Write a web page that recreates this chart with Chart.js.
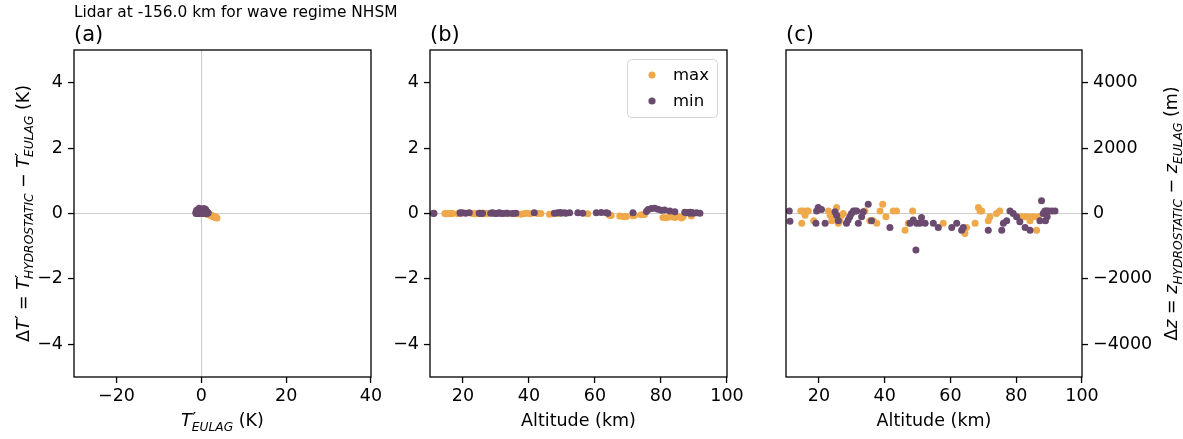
<!DOCTYPE html>
<html>
<head>
<meta charset="utf-8">
<script src="https://cdn.jsdelivr.net/npm/chart.js@4.4.0/dist/chart.umd.min.js"></script>
<style>
  body { margin: 0; background: #fff; width: 1183px; height: 439px; overflow: hidden; position: relative; }
  canvas { position: absolute; left: 0; top: 0; }
</style>
</head>
<body>
<canvas id="pa" width="1183" height="439"></canvas>
<canvas id="pb" width="1183" height="439"></canvas>
<canvas id="pc" width="1183" height="439"></canvas>
<script>
// Maxima (orange): altitude (km), T' EULAG (K), dT' (K), dz (m)
const altMax = [14.5, 14.8, 15.3, 15.8, 16.3, 16.8, 18.4, 22.9, 23.4, 23.9, 24.4, 25.4, 25.9, 26.4, 26.9, 27.4, 34.0, 35.5, 36.5, 37.6, 38.6, 39.4, 40.4, 42.6, 43.6, 46.2, 47.2, 48.5, 57.8, 64.4, 64.9, 67.5, 68.5, 69.0, 69.5, 71.5, 72.0, 74.0, 75.0, 80.6, 81.6, 82.7, 83.7, 84.2, 85.2, 86.2, 86.7, 89.2];
const tMax = [0.8, 1.0, 0.7, 1.1, 0.9, 0.6, 1.2, 0.9, 1.3, 1.1, 0.8, 0.7, 1.4, 1.2, 1.0, 0.9, 1.1, 1.3, 1.5, 1.6, 0.9, 0.7, 1.4, 1.0, 1.2, 1.8, 1.5, 1.1, 1.7, 2.2, 2.4, 2.7, 2.9, 3.1, 2.8, 2.5, 2.1, 2.0, 1.9, 3.4, 3.6, 3.2, 3.0, 3.5, 2.9, 3.7, 3.1, 2.6];
const dTMax = [0.00, -0.01, 0.00, -0.01, 0.00, 0.00, -0.01, 0.00, -0.01, -0.01, 0.00, 0.01, -0.01, -0.01, 0.00, 0.00, 0.00, -0.01, -0.01, -0.02, 0.00, 0.01, -0.01, 0.00, 0.00, -0.02, -0.01, 0.00, -0.01, -0.05, -0.06, -0.08, -0.09, -0.10, -0.09, -0.07, -0.05, -0.04, -0.03, -0.12, -0.13, -0.11, -0.10, -0.12, -0.09, -0.14, -0.10, -0.08];
const dzMax = [80, -300, 80, -50, 80, 80, -220, 80, -50, -220, -100, 180, -300, -220, -50, 0, 80, -220, -220, -300, 80, 285, -100, 80, 80, -510, -300, 80, -300, -610, -430, -300, 180, 80, 80, -220, -100, 0, 80, -100, -100, -100, -100, -220, -100, -510, -100, 0];

// Minima (purple)
const altMin = [11.0, 11.2, 19.1, 19.3, 19.8, 20.8, 21.9, 24.9, 25.4, 25.9, 28.4, 28.9, 29.4, 29.9, 30.5, 31.0, 31.5, 32.0, 33.0, 33.5, 35.0, 36.0, 41.6, 47.7, 48.7, 49.5, 49.7, 50.7, 51.2, 52.3, 54.8, 56.3, 60.4, 61.9, 63.4, 63.9, 71.5, 75.6, 76.1, 77.1, 78.1, 79.1, 80.1, 81.1, 82.7, 84.2, 87.2, 87.7, 88.2, 88.7, 88.9, 89.2, 89.4, 89.8, 90.8, 91.8];
const tMin = [-1.2, -0.8, -1.0, -0.6, -1.3, -0.9, -0.4, -1.1, -0.7, -0.2, -0.5, -1.0, 0.1, -0.3, 0.3, -0.8, 0.6, 0.0, -0.6, 0.8, 0.4, 1.0, -0.2, 1.2, 0.5, 1.4, 0.9, 1.6, 0.2, 1.1, -0.9, 0.7, 1.3, 0.4, -0.4, 1.5, 0.8, -0.3, 0.2, 0.6, -0.5, 1.0, -1.1, 0.5, 1.2, -0.7, 0.9, 0.3, 1.4, -0.1, 1.1, 0.7, -1.0, 1.3, 0.0, 0.6];
const dTMin = [0.00, 0.01, 0.02, 0.01, 0.02, 0.01, 0.02, 0.01, 0.00, 0.01, 0.01, 0.02, 0.01, 0.00, 0.01, 0.02, 0.01, 0.00, 0.01, 0.01, 0.00, 0.01, 0.02, 0.01, 0.02, 0.03, 0.01, 0.02, 0.01, 0.02, 0.02, 0.01, 0.02, 0.03, 0.02, 0.01, 0.02, 0.06, 0.12, 0.15, 0.16, 0.13, 0.10, 0.11, 0.08, 0.05, 0.04, 0.02, 0.03, 0.01, 0.04, 0.02, 0.03, 0.01, 0.02, 0.01];
const dzMin = [80, -235, -300, 80, 180, 120, -300, 50, -50, -220, -300, -200, -100, 0, 80, 80, 80, -300, -100, 50, 285, -220, -430, -300, -200, -1120, -300, -300, -120, -300, -300, -430, -430, -300, -510, -430, -510, -510, -300, -220, 80, 0, -100, -250, -430, -510, -220, 390, 0, 80, -220, 80, -100, 80, 80, 80];

// Ticks
const ticksTemp = [-20, 0, 20, 40];
const ticksAlt = [20, 40, 60, 80, 100];
const ticksDT = [-4, -2, 0, 2, 4];
const ticksDz = [-4000, -2000, 0, 2000, 4000];

const ORANGE = "#efa94a";
const PURPLE = "#6b4a6f";
const FONT = "DejaVu Sans";
const W = 1183, H = 439, TOP = 50, BOTTOM = 377;

function pts(xs, ys) {
  return xs.map((x, i) => ({ x: x, y: ys[i] }));
}

// dibuja texto con cursivas, subíndices y primas (como mathtext)
// kind: 0 normal, 1 subíndice, 2 prima, 3 prima sin avance
function drawRich(ctx, parts, x, y, size, rot) {
  const fontOf = p => (p[1] ? "italic " : "") + (p[2] === 1 ? size * 0.7 : size) + "px '" + FONT + "'";
  let total = 0;
  parts.forEach(p => {
    ctx.font = fontOf(p);
    if (p[2] !== 3) total += ctx.measureText(p[0]).width;
  });
  ctx.save();
  ctx.translate(x, y);
  ctx.rotate(rot);
  ctx.fillStyle = "#000";
  ctx.textBaseline = "alphabetic";
  ctx.textAlign = "left";
  let cx = -total / 2;
  parts.forEach(p => {
    ctx.font = fontOf(p);
    let dy = 0, dx = 0;
    if (p[2] === 1) dy = size * 0.28;
    if (p[2] >= 2) { dy = -size * 0.03; dx = 0.5; }
    ctx.fillText(p[0], cx + dx, dy);
    if (p[2] !== 3) cx += ctx.measureText(p[0]).width;
  });
  ctx.restore();
}

function drawText(ctx, txt, x, y, size) {
  ctx.save();
  ctx.font = size + "px '" + FONT + "'";
  ctx.fillStyle = "#000";
  ctx.textAlign = "left";
  ctx.textBaseline = "alphabetic";
  ctx.fillText(txt, x, y);
  ctx.restore();
}

function axis(pos, min, max, ticks, size, zeroLine) {
  return {
    type: "linear",
    position: pos,
    min: min,
    max: max,
    afterBuildTicks: s => { s.ticks = ticks.map(v => ({ value: v })); },
    afterFit: s => { if (s.isHorizontal()) s.height = size; else s.width = size; },
    grid: {
      color: c => (zeroLine && c.tick && c.tick.value === 0) ? "#cccccc" : "rgba(0,0,0,0)",
      lineWidth: 1.1,
      tickColor: "#000",
      tickWidth: 1.3,
      tickLength: 6
    },
    border: { display: false },
    ticks: {
      color: "#000",
      font: { family: FONT, size: 17.5 },
      padding: pos === "bottom" ? 3 : 5,
      callback: v => String(v).replace("-", "\u2212")
    }
  };
}

function datasets(xMax, yMax, xMin, yMin) {
  return [
    { label: "max", data: pts(xMax, yMax), backgroundColor: ORANGE, pointRadius: 3.5, borderWidth: 0, order: 1 },
    { label: "min", data: pts(xMin, yMin), backgroundColor: PURPLE, pointRadius: 3.5, borderWidth: 0, order: 0 }
  ];
}

function makeChart(id, left, right, yRight, xAxis, yAxis, xData, extra) {
  const yw = yRight ? W - right : left;
  return new Chart(document.getElementById(id), {
    type: "scatter",
    data: { datasets: datasets(xData[0], xData[1], xData[2], xData[3]) },
    options: {
      responsive: false,
      animation: false,
      events: [],
      layout: { padding: { left: yRight ? left : 0, right: yRight ? 0 : W - right, top: TOP, bottom: 0 } },
      plugins: { legend: { display: false }, tooltip: { enabled: false } },
      scales: {
        x: axis("bottom", xAxis[0], xAxis[1], xAxis[2], H - BOTTOM, xAxis[3]),
        y: axis(yRight ? "right" : "left", yAxis[0], yAxis[1], yAxis[2], yw, true)
      }
    },
    plugins: [{
      id: "decor" + id,
      afterDraw: chart => {
        const a = chart.chartArea, ctx = chart.ctx;
        ctx.save();
        ctx.strokeStyle = "#000";
        ctx.lineWidth = 1.3;
        ctx.strokeRect(a.left, a.top, a.right - a.left, a.bottom - a.top);
        ctx.restore();
        extra(chart, ctx, a);
      }
    }]
  });
}

// (a) T' vs dT'
makeChart("pa", 74, 371, false, [-30, 40, ticksTemp, true], [-5, 5, ticksDT],
  [tMax, dTMax, tMin, dTMin], (chart, ctx, a) => {
    drawText(ctx, "Lidar at -156.0 km for wave regime NHSM", 74, 17, 15.4);
    drawText(ctx, "(a)", 74, 41, 21);
    drawRich(ctx, [["T", 1, 0], ["\u2032", 0, 3], ["EULAG", 1, 1], [" (K)", 0, 0]],
      (a.left + a.right) / 2, 426, 17.5, 0);
    drawRich(ctx, [["\u0394", 0, 0], ["T", 1, 0], ["\u2032", 0, 2], [" = ", 0, 0],
      ["T", 1, 0], ["\u2032", 0, 3], ["HYDROSTATIC", 1, 1], [" \u2212 ", 0, 0],
      ["T", 1, 0], ["\u2032", 0, 3], ["EULAG", 1, 1], [" (K)", 0, 0]],
      28.5, (a.top + a.bottom) / 2, 17.5, -Math.PI / 2);
  });

// (b) altitude vs dT'
makeChart("pb", 430, 727, false, [10, 100, ticksAlt, false], [-5, 5, ticksDT],
  [altMax, dTMax, altMin, dTMin], (chart, ctx, a) => {
    drawText(ctx, "(b)", 430, 41, 21);
    drawRich(ctx, [["Altitude (km)", 0, 0]], (a.left + a.right) / 2, 426, 17.5, 0);
    // leyenda
    ctx.save();
    ctx.fillStyle = "rgba(255,255,255,0.8)";
    ctx.strokeStyle = "#d5d5d5";
    ctx.lineWidth = 1;
    ctx.beginPath();
    ctx.roundRect(627.5, 59.5, 90, 58, 4);
    ctx.fill();
    ctx.stroke();
    chart.data.datasets.forEach((ds, i) => {
      const y = 75 + i * 26;
      ctx.fillStyle = ds.backgroundColor;
      ctx.beginPath();
      ctx.arc(652, y, 3.6, 0, Math.PI * 2);
      ctx.fill();
      drawText(ctx, ds.label, 673, y + 5, 16.5);
    });
    ctx.restore();
  });

// (c) altitude vs dz
makeChart("pc", 786, 1082, true, [10, 100, ticksAlt, false], [-5000, 5000, ticksDz],
  [altMax, dzMax, altMin, dzMin], (chart, ctx, a) => {
    drawText(ctx, "(c)", 786, 41, 21);
    drawRich(ctx, [["Altitude (km)", 0, 0]], (a.left + a.right) / 2, 426, 17.5, 0);
    drawRich(ctx, [["\u0394", 0, 0], ["z", 1, 0], [" = ", 0, 0], ["z", 1, 0], ["HYDROSTATIC", 1, 1],
      [" \u2212 ", 0, 0], ["z", 1, 0], ["EULAG", 1, 1], [" (m)", 0, 0]],
      1177, (a.top + a.bottom) / 2, 17.5, -Math.PI / 2);
  });
</script>
</body>
</html>
